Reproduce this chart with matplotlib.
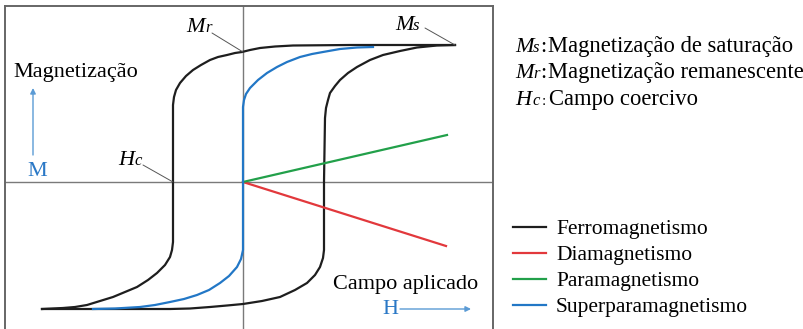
import matplotlib
matplotlib.use("Agg")
import matplotlib.pyplot as plt

plt.rcParams['font.family'] = ['Liberation Serif', 'DejaVu Serif']

# ferromagnet loop, descending branch (from +Ms back to -Ms)
fe_down_h = [2.12, 1.94, 1.57, 1.07, 0.50, 0.32, 0.17, 0.07, -0.01, -0.08, -0.16, -0.25,
             -0.33, -0.42, -0.50, -0.57, -0.63, -0.67, -0.69, -0.70, -0.70, -0.70,
             -0.71, -0.73, -0.78, -0.86, -0.95, -1.06, -1.18, -1.30, -1.43, -1.56,
             -1.68, -1.80, -2.01]
fe_down_m = [1.37, 1.37, 1.37, 1.37, 1.365, 1.355, 1.34, 1.32, 1.30, 1.29, 1.27, 1.25,
             1.22, 1.17, 1.12, 1.06, 0.99, 0.92, 0.85, 0.77, 0.0, -0.60,
             -0.68, -0.75, -0.83, -0.91, -0.98, -1.05, -1.10, -1.15, -1.19, -1.23,
             -1.25, -1.26, -1.27]
# ascending branch (from -Ms up to +Ms)
fe_up_h = [-2.01, -1.23, -0.73, -0.53, -0.33, -0.16, 0.00, 0.19, 0.37, 0.52, 0.64,
           0.72, 0.77, 0.80, 0.81, 0.81, 0.82, 0.83, 0.85, 0.87, 0.92, 0.97, 1.05,
           1.14, 1.27, 1.40, 1.57, 1.74, 1.94, 2.12]
fe_up_m = [-1.27, -1.27, -1.27, -1.265, -1.25, -1.235, -1.22, -1.19, -1.15, -1.08, -1.01,
           -0.93, -0.85, -0.76, -0.68, 0.0, 0.64, 0.74, 0.82, 0.89, 0.96, 1.02, 1.09,
           1.15, 1.22, 1.27, 1.31, 1.345, 1.365, 1.37]

# superparamagnet: no hysteresis
sp_h = [-1.50, -1.28, -1.03, -0.88, -0.73, -0.59, -0.46, -0.34, -0.23, -0.14, -0.06,
        -0.02, 0.0, 0.0, 0.0, 0.01, 0.03, 0.07, 0.15, 0.24, 0.34, 0.44, 0.57, 0.69,
        0.80, 0.97, 1.14, 1.30]
sp_m = [-1.27, -1.265, -1.25, -1.23, -1.20, -1.17, -1.13, -1.08, -1.01, -0.94, -0.85,
        -0.77, -0.68, 0.0, 0.75, 0.82, 0.88, 0.94, 1.02, 1.09, 1.15, 1.20, 1.25, 1.28,
        1.30, 1.33, 1.345, 1.35]

para_h = [0.0, 2.04]
para_m = [0.0, 0.47]
dia_h = [0.0, 2.03]
dia_m = [0.0, -0.64]

ms_point = (2.12, 1.37)
mr_point = (0.0, 1.30)
hc_point = (-0.70, 0.0)

labels = ["Ferromagnetismo", "Diamagnetismo", "Paramagnetismo", "Superparamagnetismo"]
colors = ["#1e1e1e", "#e2383c", "#22a04a", "#2277c6"]

txt_blue = "#2a78c6"
arrow_blue = "#5b9bd5"

fig = plt.figure(figsize=(8.04, 3.29), dpi=100)
ax = fig.add_axes([5 / 804, -11 / 329, 488 / 804, 334 / 329])
ax.set_xlim(-2.38, 2.50)
ax.set_ylim(-1.58, 1.76)
ax.set_xticks([])
ax.set_yticks([])
for s in ax.spines.values():
    s.set_color("#666666")
    s.set_linewidth(1.4)
ax.axhline(0, color="#7a7a7a", lw=1.0, zorder=1)
ax.axvline(0, color="#7a7a7a", lw=1.0, zorder=1)

lw = 1.6
fe_line, = ax.plot(fe_down_h, fe_down_m, color=colors[0], lw=lw, solid_joinstyle="round")
ax.plot(fe_up_h, fe_up_m, color=colors[0], lw=lw, solid_joinstyle="round")
dia_line, = ax.plot(dia_h, dia_m, color=colors[1], lw=lw)
para_line, = ax.plot(para_h, para_m, color=colors[2], lw=lw)
sp_line, = ax.plot(sp_h, sp_m, color=colors[3], lw=lw, solid_joinstyle="round")

ax.legend([fe_line, dia_line, para_line, sp_line], labels, loc="upper left",
          bbox_to_anchor=(513 / 804, 1 - 219 / 329), bbox_transform=fig.transFigure,
          frameon=False, prop={"size": 15.5}, handlelength=1.55, handletextpad=0.45,
          labelspacing=0.28, borderpad=0, borderaxespad=0)

# overlay in pixel units for the text
side = fig.add_axes([0, 0, 1, 1])
side.set_xlim(0, 804)
side.set_ylim(329, 0)
side.axis("off")


def sym(x, y, big, small, dx, size=16, small_size=12):
    side.text(x, y, big, size=size, style="italic", ha="left", va="baseline")
    side.text(x + dx, y, small, size=small_size, style="italic", ha="left", va="baseline")


# labels with leader lines on the loop
lead = dict(arrowstyle="-", color="#555555", lw=0.7, shrinkA=0, shrinkB=0)
sym(186, 32, "M", "r", 19)
side.annotate("", xy=mr_point, xycoords=ax.transData, xytext=(212, 33),
              textcoords="data", arrowprops=lead)
sym(395, 30, "M", "s", 18)
side.annotate("", xy=ms_point, xycoords=ax.transData, xytext=(425, 28),
              textcoords="data", arrowprops=lead)
sym(118, 165, "H", "c", 16)
side.annotate("", xy=hc_point, xycoords=ax.transData, xytext=(143, 165),
              textcoords="data", arrowprops=lead)

side.text(13, 73, "Magnetização", size=16, ha="left", va="center")
side.annotate("", xy=(33, 88), xytext=(33, 155),
              arrowprops=dict(arrowstyle="-|>", color=arrow_blue, lw=1.0, mutation_scale=8,
                              shrinkA=0, shrinkB=0))
side.text(37, 172, "M", size=16, color=txt_blue, ha="center", va="center")

side.text(406, 284, "Campo aplicado", size=16, ha="center", va="center")
side.text(390, 309, "H", size=16, color=txt_blue, ha="center", va="center")
side.annotate("", xy=(471, 309), xytext=(400, 309),
              arrowprops=dict(arrowstyle="-|>", color=arrow_blue, lw=1.0, mutation_scale=8,
                              shrinkA=0, shrinkB=0))

# definitions on the right
sym(515, 52, "M", "s", 18)
side.text(540, 52, ":", size=16, ha="left", va="baseline")
side.text(548, 52, "Magnetização de saturação", size=16.3, ha="left", va="baseline")
sym(515, 78, "M", "r", 18)
side.text(540, 78, ":", size=16, ha="left", va="baseline")
side.text(548, 78, "Magnetização remanescente", size=16.3, ha="left", va="baseline")
sym(515, 105, "H", "c", 17)
side.text(542, 105, ":", size=11, ha="left", va="baseline")
side.text(549, 105, "Campo coercivo", size=16.3, ha="left", va="baseline")

fig.savefig("out.png", dpi=100)
